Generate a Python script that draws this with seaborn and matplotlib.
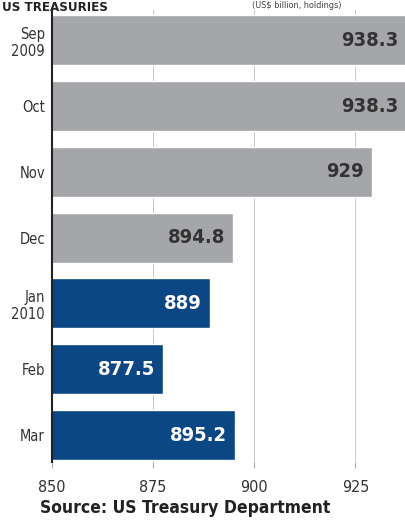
import matplotlib
matplotlib.use("Agg")
import matplotlib.pyplot as plt
import seaborn as sns
import pandas as pd

months = ["Sep\n2009", "Oct", "Nov", "Dec", "Jan\n2010", "Feb", "Mar"]
values = [938.3, 938.3, 929, 894.8, 889, 877.5, 895.2]
labels = ["938.3", "938.3", "929", "894.8", "889", "877.5", "895.2"]
year = ["2009", "2009", "2009", "2009", "2010", "2010", "2010"]
xticks = [850, 875, 900, 925]

sns.set_theme(style="white")
plt.rcParams['font.family'] = ['DejaVu Sans']
plt.rcParams['font.stretch'] = 'condensed'

df = pd.DataFrame({"month": months, "value": values, "year": year})
palette = {"2009": "#a4a6a9", "2010": "#0b4685"}

fig = plt.figure(figsize=(4.06, 5.28), dpi=100)
ax = fig.add_axes([0.128, 0.125, 0.872, 0.856])
sns.barplot(data=df, x="value", y="month", hue="year", palette=palette,
            dodge=False, legend=False, width=0.76, saturation=1, ax=ax, orient="h")

ax.set_xlim(850, 937.5)
ax.set_ylim(6.41, -0.46)
ax.set_xticks(xticks)
ax.set_xticklabels([str(t) for t in xticks], fontsize=11.5, color="#333333",
                   stretch="condensed")
ax.set_xlabel("")
ax.set_ylabel("")
ax.tick_params(axis="y", labelsize=10.5, colors="#333333", length=0, pad=5)
ax.tick_params(axis="x", length=4, width=0.8, color="#aaaaaa", pad=9, bottom=True)
for lbl in ax.get_yticklabels():
    lbl.set_linespacing(1.15)
    lbl.set_fontstretch("condensed")
ax.set_axisbelow(True)
ax.xaxis.grid(True, color="#c8c8c8", linewidth=0.7)
for s in ["top", "right", "bottom"]:
    ax.spines[s].set_visible(False)
ax.spines["left"].set_color("#222222")
ax.spines["left"].set_linewidth(1.5)

for i, (v, l, y) in enumerate(zip(values, labels, year)):
    c = "#333333" if y == "2009" else "white"
    ax.text(min(v, 937.5) - 2.0, i, l, ha="right", va="center",
            fontsize=14.5, fontweight="bold", color=c, stretch="condensed")

fig.text(0.005, 0.999, "US TREASURIES", fontsize=9.5, fontweight="bold",
         color="#222222", va="top", ha="left")
fig.text(0.62, 0.999, "(US$ billion, holdings)", fontsize=6.5, color="#444444",
         va="top", ha="left")
fig.text(0.098, 0.02, "Source: US Treasury Department", fontsize=12.5,
         fontweight="bold", color="#222222", ha="left", va="bottom",
         stretch="condensed")

fig.savefig("out.png", dpi=100)
